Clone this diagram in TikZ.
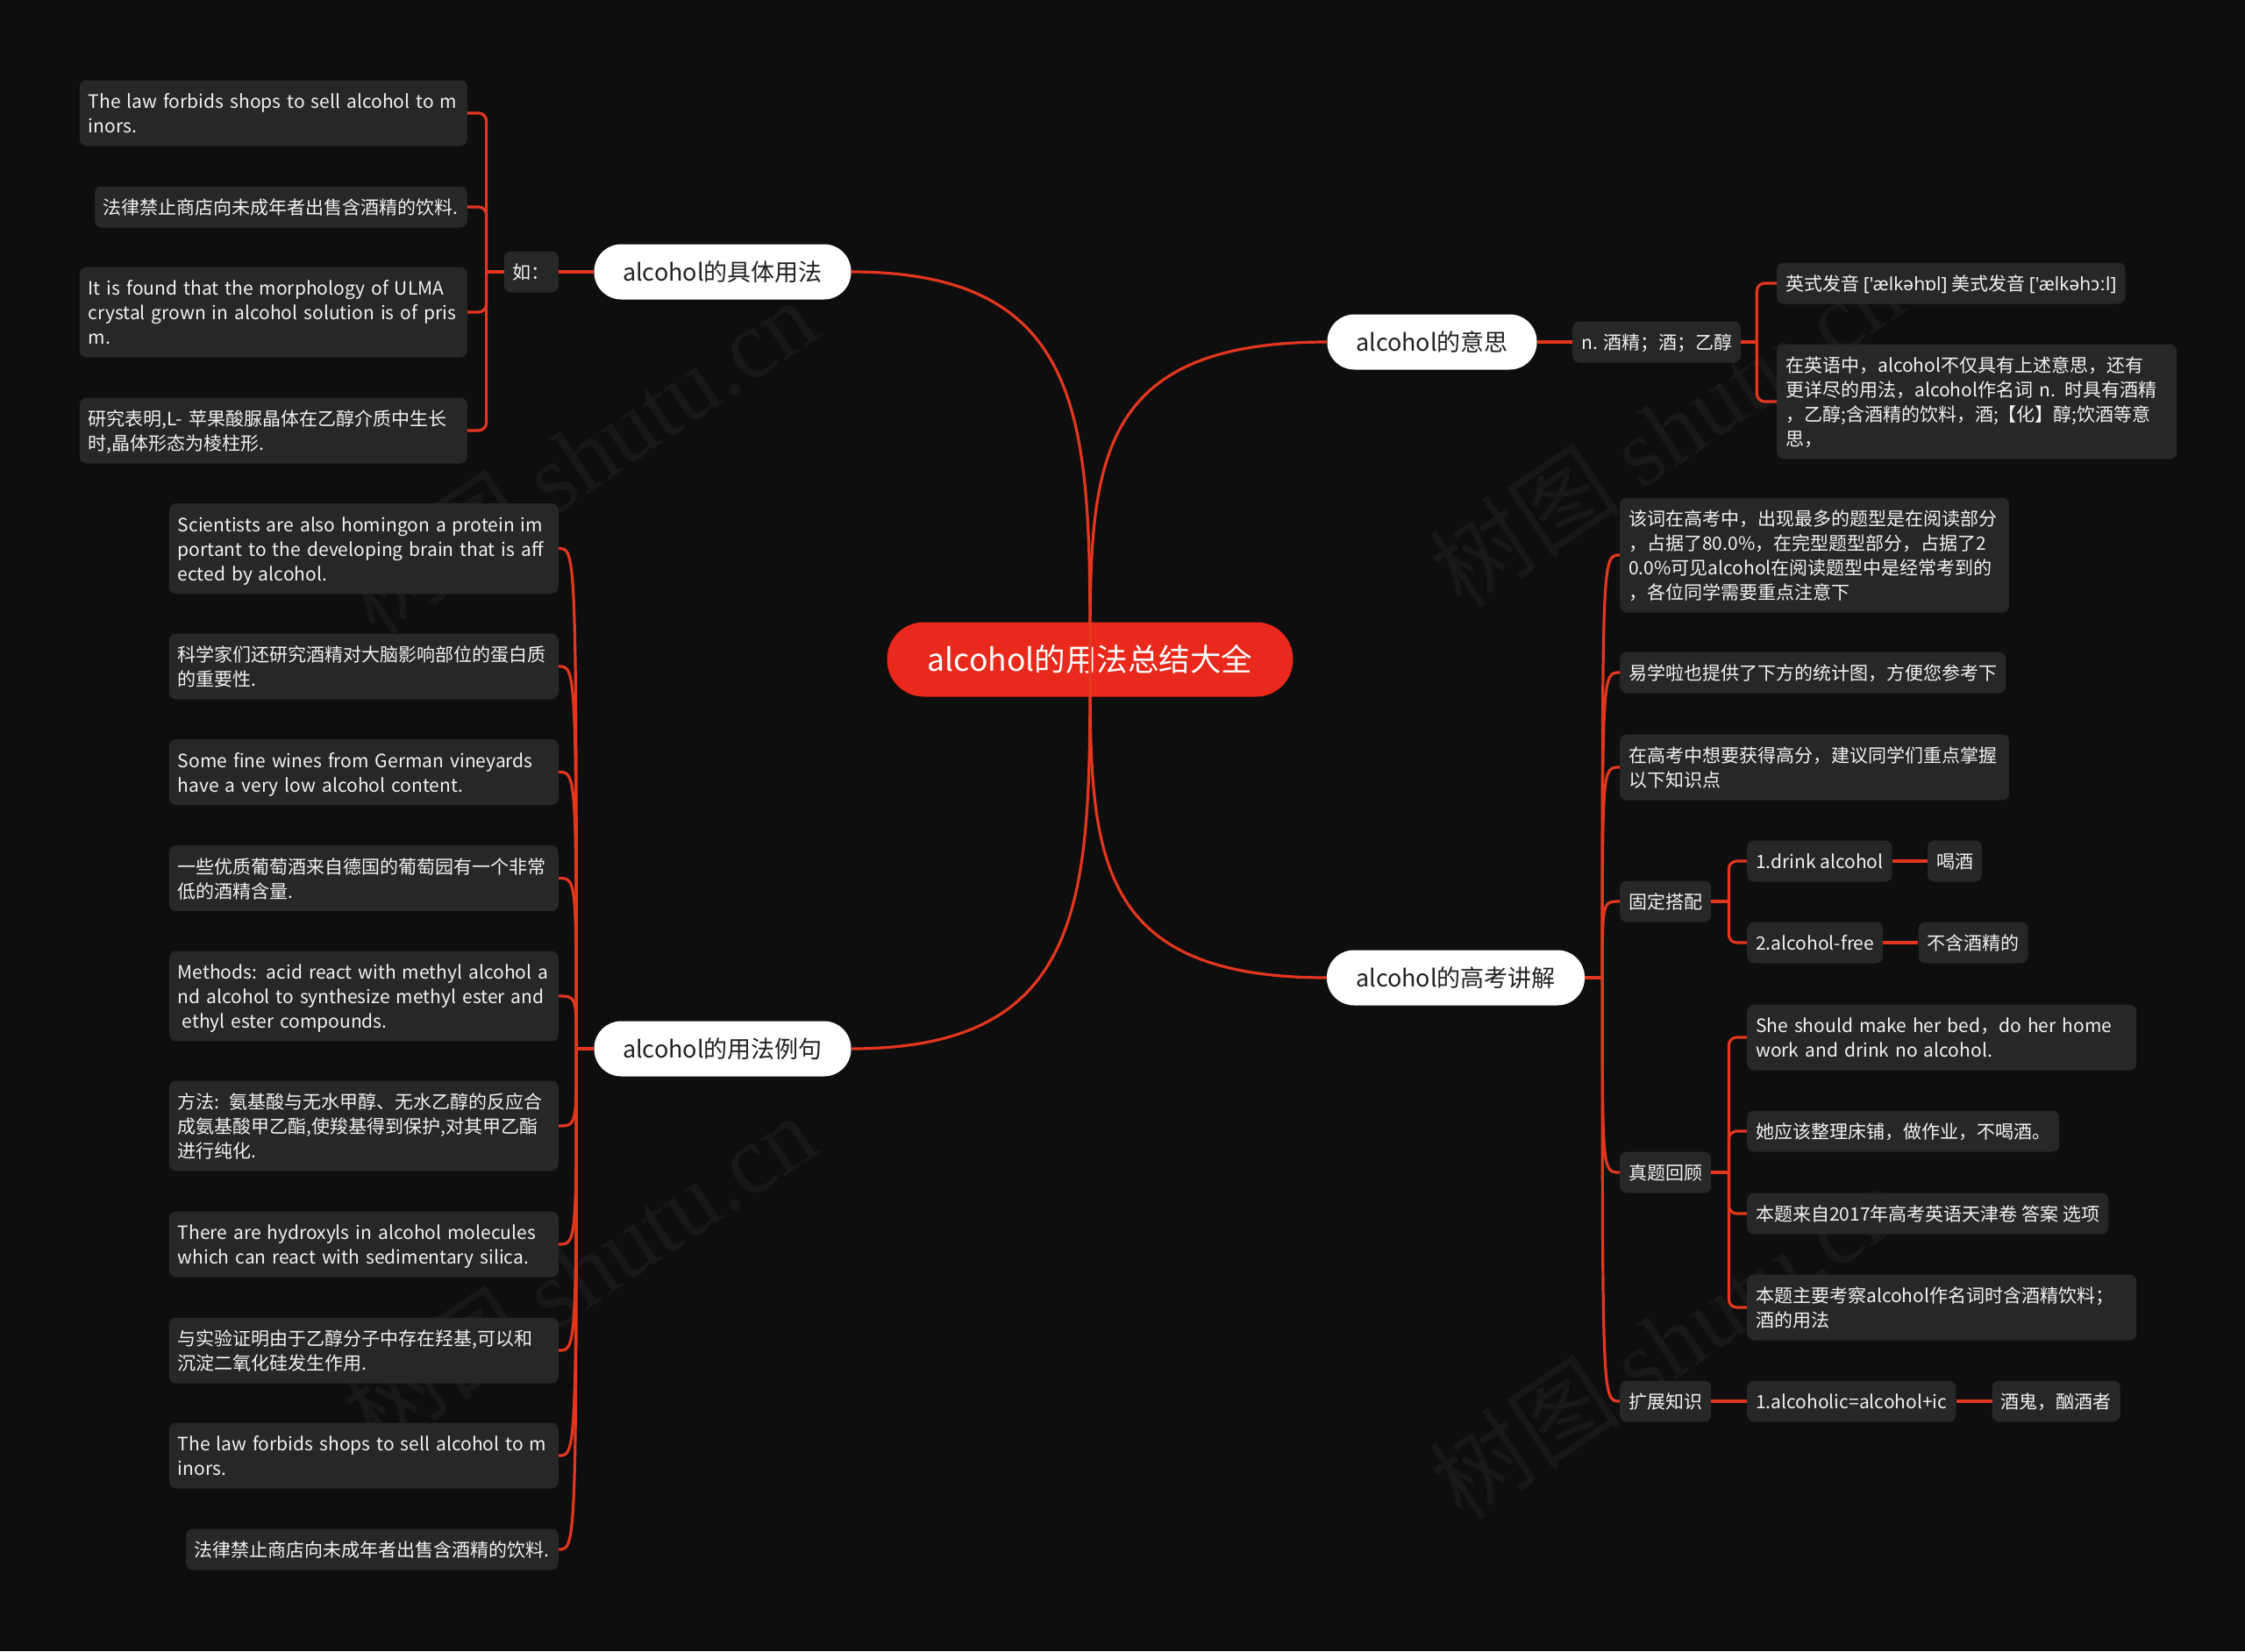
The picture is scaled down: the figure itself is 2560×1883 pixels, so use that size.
\documentclass[tikz,border=0pt]{standalone}
\usepackage{fontspec}
\setmainfont{Noto Sans CJK SC}
\newfontfamily\ipafont{Noto Sans}
\newfontfamily\wmfont{Liberation Serif}
\usetikzlibrary{calc}
\definecolor{bgc}{HTML}{0E0E0E}
\definecolor{boxc}{HTML}{272727}
\definecolor{linec}{HTML}{E2361F}
\definecolor{redc}{HTML}{E8291B}
\definecolor{txtc}{HTML}{F2F2F2}
\definecolor{darktxt}{HTML}{222222}
\definecolor{wmc}{HTML}{181818}
\newcommand{\lfstrut}{\rule[-5.4pt]{0pt}{28pt}}
\begin{document}
\begin{tikzpicture}[x=1pt,y=-1pt,
  leaf/.style={fill=boxc, rounded corners=8pt, text=txtc,
    font=\fontsize{21}{28}\selectfont, align=left, inner xsep=10pt, inner ysep=9.5pt,
    execute at begin node=\lfstrut, execute at end node=\lfstrut},
  mainn/.style={fill=white, rounded corners=31pt, text=darktxt,
    font=\fontsize{27}{30}\selectfont, minimum height=63pt, inner sep=0pt},
  centraln/.style={fill=redc, rounded corners=42pt, text=white,
    font=\fontsize{35.5}{40}\selectfont, minimum height=85pt, minimum width=463pt, inner sep=0pt},
  conn/.style={draw=linec, line width=3.2pt},
  elb/.style={conn, rounded corners=9pt},
  wm/.style={text=wmc, font=\fontsize{110}{120}\selectfont, rotate=34}
]
\fill[bgc] (0,0) rectangle (2560,1883);
\useasboundingbox (0,0) rectangle (2560,1883);

% watermarks
\node[wm] (w1) at (660,520) {树图 {\wmfont shutu.cn}};
\node[wm] (w2) at (1900,490) {树图 {\wmfont shutu.cn}};
\node[wm] (w3) at (660,1450) {树图 {\wmfont shutu.cn}};
\node[wm] (w4) at (1900,1530) {树图 {\wmfont shutu.cn}};

% central and main nodes
\node[centraln] (c) at (1243,752) {alcohol的用法总结大全};
\node[mainn, minimum width=293pt] (m1) at (824,310) {alcohol的具体用法};
\node[mainn, minimum width=239pt] (m2) at (1633,390) {alcohol的意思};
\node[mainn, minimum width=294pt] (m3) at (1660,1115) {alcohol的高考讲解};
\node[mainn, minimum width=293pt] (m4) at (824,1196) {alcohol的用法例句};

% top-left subtree
\node[leaf, anchor=east] (ru) at (637,310) {如：};
\node[leaf, anchor=east, text width=422pt] (a1) at (533,129) {The law forbids shops to sell alcohol to m\\inors.};
\node[leaf, anchor=east] (a2) at (533,236) {法律禁止商店向未成年者出售含酒精的饮料.};
\node[leaf, anchor=east, text width=422pt] (a3) at (533,356) {It is found that the morphology of ULMA\\crystal grown in alcohol solution is of pris\\m.};
\node[leaf, anchor=east, text width=422pt] (a4) at (533,491) {研究表明,L- 苹果酸脲晶体在乙醇介质中生长\\时,晶体形态为棱柱形.};

% top-right subtree
\node[leaf, anchor=west] (n1) at (1793,390) {n. 酒精；酒；乙醇};
\node[leaf, anchor=west] (b1) at (2026,323) {英式发音 {\ipafont ['ælkəhɒl]} 美式发音 {\ipafont ['ælkəhɔːl]}};
\node[leaf, anchor=west, text width=436pt] (b2) at (2026,458) {在英语中，alcohol不仅具有上述意思，还有\\更详尽的用法，alcohol作名词\mbox{ n. }时具有酒精\\，乙醇;含酒精的饮料，酒;【化】醇;饮酒等意\\思，};

% left examples
\node[leaf, anchor=east, text width=424pt] (l1) at (637,625.5) {Scientists are also homingon a protein im\\portant to the developing brain that is aff\\ected by alcohol.};
\node[leaf, anchor=east, text width=424pt] (l2) at (637,760) {科学家们还研究酒精对大脑影响部位的蛋白质\\的重要性.};
\node[leaf, anchor=east, text width=424pt] (l3) at (637,880.5) {Some fine wines from German vineyards\\have a very low alcohol content.};
\node[leaf, anchor=east, text width=424pt] (l4) at (637,1001.5) {一些优质葡萄酒来自德国的葡萄园有一个非常\\低的酒精含量.};
\node[leaf, anchor=east, text width=424pt] (l5) at (637,1136) {Methods: acid react with methyl alcohol a\\nd alcohol to synthesize methyl ester and\\\hspace*{5pt}ethyl ester compounds.};
\node[leaf, anchor=east, text width=424pt] (l6) at (637,1284) {方法: 氨基酸与无水甲醇、无水乙醇的反应合\\成氨基酸甲乙酯,使羧基得到保护,对其甲乙酯\\进行纯化.};
\node[leaf, anchor=east, text width=424pt] (l7) at (637,1419) {There are hydroxyls in alcohol molecules\\which can react with sedimentary silica.};
\node[leaf, anchor=east, text width=424pt] (l8) at (637,1540) {与实验证明由于乙醇分子中存在羟基,可以和\\沉淀二氧化硅发生作用.};
\node[leaf, anchor=east, text width=424pt] (l9) at (637,1660) {The law forbids shops to sell alcohol to m\\inors.};
\node[leaf, anchor=east] (l10) at (637,1767) {法律禁止商店向未成年者出售含酒精的饮料.};

% bottom-right subtree
\node[leaf, anchor=west, text width=424pt] (r1) at (1847,633) {该词在高考中，出现最多的题型是在阅读部分\\，占据了80.0\%，在完型题型部分，占据了2\\0.0\%可见alcohol在阅读题型中是经常考到的\\，各位同学需要重点注意下};
\node[leaf, anchor=west] (r2) at (1847,767) {易学啦也提供了下方的统计图，方便您参考下};
\node[leaf, anchor=west, text width=424pt] (r3) at (1847,875) {在高考中想要获得高分，建议同学们重点掌握\\以下知识点};
\node[leaf, anchor=west] (g1) at (1847,1028) {固定搭配};
\node[leaf, anchor=west] (g2) at (1847,1337) {真题回顾};
\node[leaf, anchor=west] (g3) at (1847,1598) {扩展知识};

\node[leaf, anchor=west] (d1) at (1992,982) {1.drink alcohol};
\node[leaf, anchor=west] (d2) at (1992,1075) {2.alcohol-free};
\node[leaf, anchor=west] (d1b) at ($(d1.east)+(40,0)$) {喝酒};
\node[leaf, anchor=west] (d2b) at ($(d2.east)+(40,0)$) {不含酒精的};

\node[leaf, anchor=west, text width=424pt] (s1) at (1992,1183) {She should make her bed，do her home\\work and drink no alcohol.};
\node[leaf, anchor=west] (s2) at (1992,1290) {她应该整理床铺，做作业，不喝酒。};
\node[leaf, anchor=west] (s3) at (1992,1384) {本题来自2017年高考英语天津卷 答案 选项};
\node[leaf, anchor=west, text width=424pt] (s4) at (1992,1491) {本题主要考察alcohol作名词时含酒精饮料；\\酒的用法};

\node[leaf, anchor=west] (e1) at (1992,1598) {1.alcoholic=alcohol+ic};
\node[leaf, anchor=west] (e1b) at ($(e1.east)+(41,0)$) {酒鬼，酗酒者};

% ---------- connectors ----------
% main curves
\draw[conn] (m1.east) .. controls (c |- m1.east) and ($(c.center)!0.6!(c |- m1.east)$) .. (c.center);
\draw[conn] (m4.east) .. controls (c |- m4.east) and ($(c.center)!0.6!(c |- m4.east)$) .. (c.center);
\draw[conn] (c.center) .. controls ($(c.center)!0.6!(c |- m2.west)$) and (c |- m2.west) .. (m2.west);
\draw[conn] (c.center) .. controls ($(c.center)!0.6!(c |- m3.west)$) and (c |- m3.west) .. (m3.west);

% top-left elbows
\draw[conn] (m1.west) -- (ru.east);
\coordinate (ruj) at ($(ru.west)+(-20,0)$);
\draw[conn] (ru.west) -- (ruj);
\foreach \k in {a1,a2,a3,a4} { \draw[elb] (ruj) |- (\k.east); }

% top-right elbows
\draw[conn] (m2.east) -- (n1.west);
\coordinate (n1j) at ($(n1.east)+(18,0)$);
\draw[conn] (n1.east) -- (n1j);
\foreach \k in {b1,b2} { \draw[elb] (n1j) |- (\k.west); }

% left examples curves
\coordinate (m4j) at ($(m4.west)+(-20,0)$);
\draw[conn] (m4.west) -- (m4j);
\foreach \k in {l1,l2,l3,l4,l5,l6,l7,l8,l9,l10} {
  \draw[conn] (m4j) .. controls (m4j |- \k.east) and ($(\k.east)+(20,0)$) .. (\k.east);
}

% bottom-right curves
\coordinate (m3j) at ($(m3.east)+(20,0)$);
\draw[conn] (m3.east) -- (m3j);
\foreach \k in {r1,r2,r3,g1,g2,g3} {
  \draw[conn] (m3j) .. controls (m3j |- \k.west) and ($(\k.west)+(-20,0)$) .. (\k.west);
}

% second level elbows
\coordinate (g1j) at ($(g1.east)+(20,0)$);
\draw[conn] (g1.east) -- (g1j);
\foreach \k in {d1,d2} { \draw[elb] (g1j) |- (\k.west); }
\coordinate (g2j) at ($(g2.east)+(20,0)$);
\draw[conn] (g2.east) -- (g2j);
\foreach \k in {s1,s2,s3,s4} { \draw[elb] (g2j) |- (\k.west); }
\draw[conn] (g3.east) -- (e1.west);
\draw[conn] (d1.east) -- (d1b.west);
\draw[conn] (d2.east) -- (d2b.west);
\draw[conn] (e1.east) -- (e1b.west);
\end{tikzpicture}
\end{document}
